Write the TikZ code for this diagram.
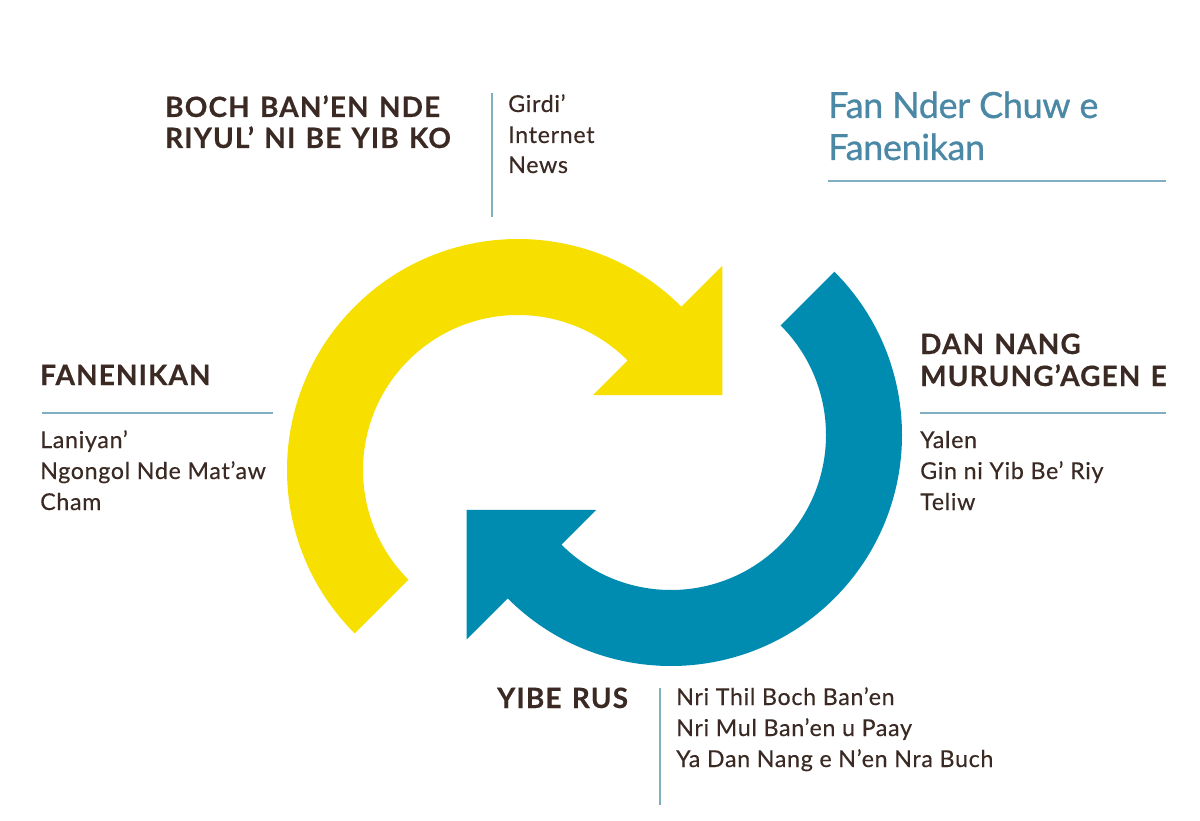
\documentclass[tikz,border=0pt]{standalone}
\usepackage{fontspec}
\setmainfont{Lato}
\usetikzlibrary{calc}
\newfontfamily\headfam[LetterSpace=4,WordSpace=1.3,FakeBold=0.4]{Lato}
\newfontfamily\bodyfam[LetterSpace=3,FakeBold=0.35]{Lato}
\newfontfamily\titlefam[LetterSpace=-1,FakeBold=0.7]{Lato}
\definecolor{ylw}{HTML}{F7DF00}
\definecolor{blu}{HTML}{008BB1}
\definecolor{ink}{HTML}{3A2A23}
\definecolor{ttl}{HTML}{4A88A6}
\definecolor{rule}{HTML}{80AFC2}
\begin{document}
\begin{tikzpicture}[x=1pt,y=-1pt,
  head/.style={anchor=base west,inner sep=0pt,text=ink,font=\headfam\bfseries\fontsize{28}{31}\selectfont},
  body/.style={anchor=base west,inner sep=0pt,text=ink,font=\bodyfam\fontsize{23.2}{30}\selectfont},
  ttlsty/.style={anchor=base west,inner sep=0pt,text=ttl,font=\titlefam\fontsize{36}{42}\selectfont},
  rulesty/.style={draw=rule,line width=1.5pt}]
\useasboundingbox (0,0) rectangle (1200,821);
\fill[white] (0,0) rectangle (1200,821);
% centres
\coordinate (Y) at (518,470);
\coordinate (B) at (671,435);
% yellow arrow
\fill[ylw] ($(Y)+(135:231)$) arc[start angle=135,end angle=315,radius=231]
  -- ($(Y)+(315:289)$) -- ($(Y)+(315:197.5)+(45:91.5)$) -- ($(Y)+(315:106)$)
  -- ($(Y)+(315:155)$) arc[start angle=315,end angle=135,radius=155] -- cycle;
% blue arrow
\fill[blu] ($(B)+(315:231)$) arc[start angle=315,end angle=495,radius=231]
  -- ($(B)+(495:289)$) -- ($(B)+(495:197.5)+(585:91.5)$) -- ($(B)+(495:106)$)
  -- ($(B)+(495:155)$) arc[start angle=495,end angle=315,radius=155] -- cycle;
% top-left block
\node[head] (h1a) at (165,117) {BOCH BAN’EN NDE};
\node[head] (h1b) at (165,148) {RIYUL’ NI BE YIB KO};
\coordinate (v1t) at (492,93);
\coordinate (v1b) at (492,217);
\draw[rulesty] (v1t) -- (v1b);
\node[body] (b1a) at (508,112) {Girdi’};
\node[body] (b1b) at (508,143) {Internet};
\node[body] (b1c) at (508,173) {News};
% title
\node[ttlsty] (t1) at (828,118) {Fan Nder Chuw e};
\node[ttlsty] (t2) at (828,160) {Fanenikan};
\coordinate (r0a) at (828,181);
\coordinate (r0b) at (1166,181);
\draw[rulesty] (r0a) -- (r0b);
% left block
\node[head] (h2) at (40,385) {FANENIKAN};
\coordinate (r1a) at (42,413);
\coordinate (r1b) at (273,413);
\draw[rulesty] (r1a) -- (r1b);
\node[body] (b2a) at (40,448) {Laniyan’};
\node[body] (b2b) at (40,479) {Ngongol Nde Mat’aw};
\node[body] (b2c) at (40,510) {Cham};
% right block
\node[head] (h3a) at (920,354) {DAN NANG};
\node[head] (h3b) at (920,386) {MURUNG’AGEN E};
\coordinate (r2a) at (920,413);
\coordinate (r2b) at (1166,413);
\draw[rulesty] (r2a) -- (r2b);
\node[body] (b3a) at (920,448) {Yalen};
\node[body] (b3b) at (920,479) {Gin ni Yib Be’ Riy};
\node[body] (b3c) at (920,510) {Teliw};
% bottom block
\node[head] (h4) at (497,708) {YIBE RUS};
\coordinate (v2t) at (660,688);
\coordinate (v2b) at (660,805);
\draw[rulesty] (v2t) -- (v2b);
\node[body] (b4a) at (676,705) {Nri Thil Boch Ban’en};
\node[body] (b4b) at (676,736) {Nri Mul Ban’en u Paay};
\node[body] (b4c) at (676,767) {Ya Dan Nang e N’en Nra Buch};
\end{tikzpicture}
\end{document}
